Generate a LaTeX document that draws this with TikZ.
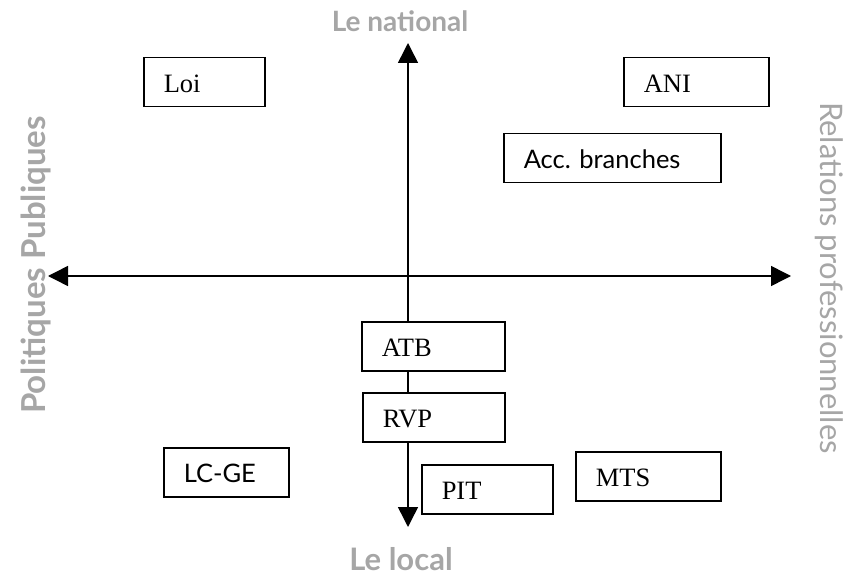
\documentclass[tikz,border=0pt]{standalone}
\usepackage{fontspec}
\setmainfont{Liberation Serif}
\newfontfamily\labfont{Lato}
\usetikzlibrary{arrows.meta}
\definecolor{lgray}{HTML}{A6A6A6}
\frenchspacing
\tikzset{
  box/.style={draw, line width=1.5pt, fill=white, anchor=north west,
    minimum height=49pt, inner xsep=20pt, inner ysep=0pt, align=left,
    text height=20pt, text depth=0pt,
    font=\fontsize{26.5}{28}\selectfont},
  sbox/.style={box, font=\labfont\fontsize{25.5}{28}\selectfont},
  axis/.style={line width=1.5pt,
    {Triangle[length=20pt,width=20pt]}-{Triangle[length=20pt,width=20pt]}},
  glab/.style={text=lgray, inner sep=0pt, font=\labfont\bfseries\fontsize{28}{30}\selectfont},
  glabr/.style={text=lgray, inner sep=0pt, font=\labfont\fontsize{31}{34}\selectfont}
}
\begin{document}
\begin{tikzpicture}[x=1pt,y=-1pt]
\useasboundingbox (0,0) rectangle (851,577);
\coordinate (N) at (408,43);
\coordinate (S) at (408,527);
\coordinate (W) at (48,276);
\coordinate (E) at (791,276);
\draw[axis] (W) -- (E);
\draw[axis] (S) -- (N);
\node[box, text width=81pt] (loi) at (143,57) {Loi};
\node[box, text width=105pt] (ani) at (623,57) {ANI};
\node[sbox, text width=177pt] (acc) at (503,133) {Acc. branches};
\node[box, text width=103pt] (atb) at (361,321) {ATB};
\node[box, text width=102pt] (rvp) at (362,392) {RVP};
\node[sbox, text width=85pt] (lcge) at (163,447) {LC-GE};
\node[box, text width=91pt] (pit) at (421,464) {PIT};
\node[box, text width=105pt] (mts) at (575,451) {MTS};
\node[glab, anchor=base] (nat) at (400,32) {Le national};
\node[glab, anchor=base, font=\labfont\bfseries\fontsize{31}{33}\selectfont] (loc) at (401,570) {Le local};
\node[glab, anchor=base, rotate=90, font=\labfont\bfseries\fontsize{33}{36}\selectfont] (pp) at (45,265) {Politiques Publiques};
\node[glabr, anchor=base, rotate=-90] (rp) at (820,278) {Relations professionnelles};
\end{tikzpicture}
\end{document}
